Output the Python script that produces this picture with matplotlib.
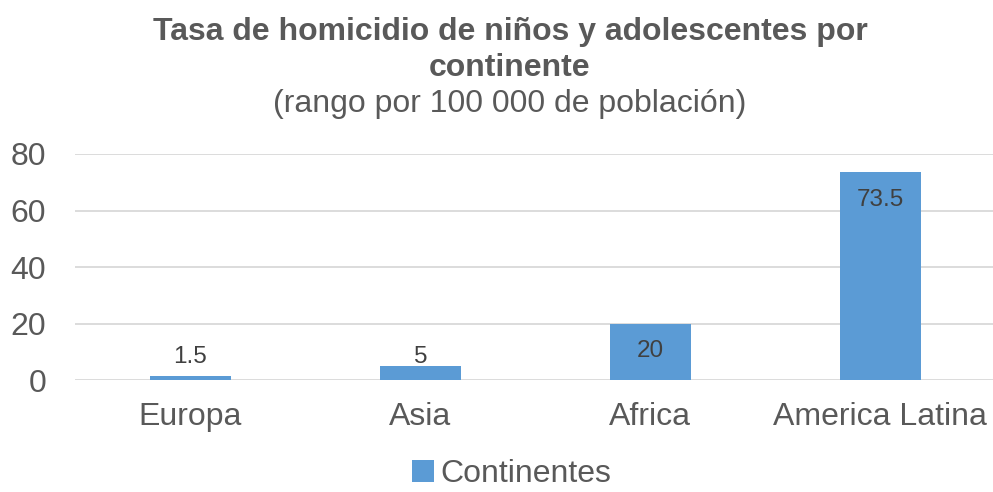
import matplotlib.pyplot as plt
import numpy as np

plt.rcParams['font.family'] = ['Liberation Sans', 'DejaVu Sans']

# data
continents = ['Europa', 'Asia', 'Africa', 'America Latina']
rates = [1.5, 5, 20, 73.5]
series_name = 'Continentes'
y_ticks = [0, 20, 40, 60, 80]

bar_color = '#5B9BD5'
text_color = '#595959'

fig = plt.figure(figsize=(9.93, 4.92), dpi=100)
ax = fig.add_axes([0.076, 0.2276, 0.926, 0.4594])

x = np.arange(len(continents))
bars = ax.bar(x, rates, width=0.352, color=bar_color, label=series_name, zorder=3)

ax.set_xlim(-0.5, len(continents) - 0.5)
ax.set_ylim(0, 80)
ax.set_yticks(y_ticks)
ax.set_xticks(x)
ax.set_xticklabels(continents)
ax.tick_params(axis='both', length=0, labelsize=23, labelcolor=text_color)
ax.tick_params(axis='y', pad=21)
ax.tick_params(axis='x', pad=16)
ax.grid(axis='y', color='#D9D9D9', lw=1.3, zorder=0)
for s in ax.spines.values():
    s.set_visible(False)

# labels: inside end, pushed up when the bar is too short
for xi, v in zip(x, rates):
    ly = max(v - 9.8, 8.1)
    ax.text(xi, ly, f'{v:g}', ha='center', va='center', fontsize=17.5,
            color='#404040', zorder=4)

fig.text(0.5135, 0.935, 'Tasa de homicidio de niños y adolescentes por',
         ha='center', va='center', fontsize=23, fontweight='bold', color=text_color)
fig.text(0.5135, 0.862, 'continente', ha='center', va='center', fontsize=23,
         fontweight='bold', color=text_color)
fig.text(0.5135, 0.789, '(rango por 100 000 de población)', ha='center', va='center',
         fontsize=23, color=text_color)

leg = fig.legend(loc='center', bbox_to_anchor=(0.515, 0.036), frameon=False,
                 fontsize=23, handlelength=0.7, handleheight=0.7, handletextpad=0.2,
                 borderpad=0)
for t in leg.get_texts():
    t.set_color(text_color)

fig.savefig('out.png', dpi=100)
